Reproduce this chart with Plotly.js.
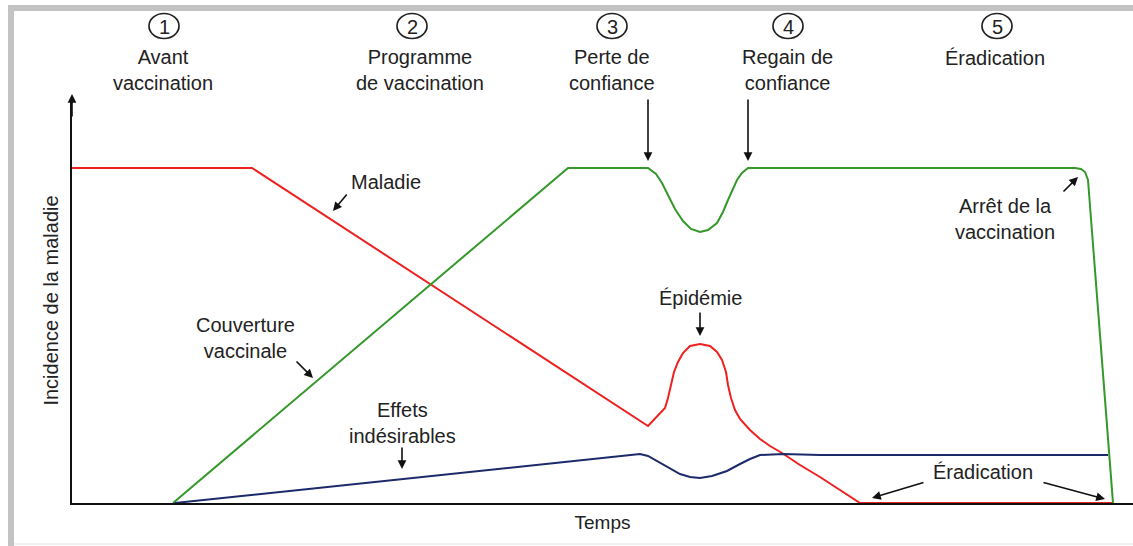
<!DOCTYPE html>
<html>
<head>
<meta charset="utf-8">
<script src="https://cdn.plot.ly/plotly-3.0.1.min.js"></script>
<style>html,body{margin:0;padding:0;background:#fff;}#chart{width:1133px;height:546px;}</style>
</head>
<body>
<div id="chart"></div>
<script>
// Time axis (arbitrary units) and incidence values
const maladieT = [0,180,576,586,593,596,599,602,606,611,618,628,638,645,650,654,656,659,663,668,678,688,698,710,728,748,788,1041];
const maladieV = [335,335,77,88,95,105,119,131,141,150,157,159,157,151,143,131,118,105,93,84,73,64,57,50,38,26,0,0];

const couvertureT = [101,496,576,584,590,595,603,611,619,628,636,645,651,656,661,665,670,676,1003,1009,1013,1016,1041];
const couvertureV = [0,335,335,329,320,310,294,282,274,271,273,280,291,303,314,323,330,335,335,334,331,323,0];

const effetsT = [103,568,576,588,598,608,618,628,640,655,668,678,688,711,748,1036];
const effetsV = [0,49,47,40,34,29,26,25,27,32,39,44,48,49,48,48];

const phaseNums = ['1','2','3','4','5'];
const phaseLabels = ['Avant<br>vaccination','Programme<br>de vaccination','Perte de<br>confiance','Regain de<br>confiance','Éradication'];

// ---- layout geometry (pixels) ----
const W = 1133, H = 546, L = 72, R = 0, T = 98, B = 43;
const PW = W - L - R, PH = H - T - B;
const PX = px => (px - L) / PW;    // pixel -> paper x
const PY = py => ((H - B) - py) / PH; // pixel -> paper y

const FONT = 'Liberation Sans, Arial, sans-serif';
const TXT = '#222222';
const FS = 20;

const traces = [
  {x: maladieT, y: maladieV, mode: 'lines', name: 'Maladie', line: {color: '#ee2020', width: 2}, cliponaxis: false},
  {x: couvertureT, y: couvertureV, mode: 'lines', name: 'Couverture vaccinale', line: {color: '#35982a', width: 2}, cliponaxis: false},
  {x: effetsT, y: effetsV, mode: 'lines', name: 'Effets indésirables', line: {color: '#1c2a6a', width: 2}, cliponaxis: false}
];

const annotations = [];
const shapes = [];

// phase headers
const phaseX = [164, 412, 612, 788, 997];
const labelX = [163, 420, 612, 787, 995];
phaseNums.forEach((n, i) => {
  shapes.push({type: 'circle', xref: 'paper', yref: 'paper', xsizemode: 'pixel', ysizemode: 'pixel',
    xanchor: PX(phaseX[i]), yanchor: PY(26), x0: -15, x1: 15, y0: -12.5, y1: 12.5,
    line: {color: '#222', width: 1.7}, fillcolor: 'rgba(0,0,0,0)'});
  annotations.push({xref: 'paper', yref: 'paper', x: PX(phaseX[i]), y: PY(26.5), text: n, showarrow: false,
    font: {family: FONT, size: 20, color: TXT}, xanchor: 'center', yanchor: 'middle'});
  const single = phaseLabels[i].indexOf('<br>') < 0;
  annotations.push({xref: 'paper', yref: 'paper', x: PX(labelX[i]), y: PY(single ? 58 : 70), text: phaseLabels[i], showarrow: false,
    font: {family: FONT, size: FS, color: TXT}, xanchor: 'center', yanchor: 'middle', align: 'center'});
});

// text labels in the plot
const labels = [
  ['Maladie', 386, 182],
  ['Couverture<br>vaccinale', 245, 338],
  ['Effets<br>indésirables', 402, 423],
  ['Épidémie', 700, 298],
  ['Arrêt de la<br>vaccination', 1005, 219],
  ['Éradication', 983, 472]
];
labels.forEach(l => annotations.push({xref: 'paper', yref: 'paper', x: PX(l[1]), y: PY(l[2]), text: l[0], showarrow: false,
  font: {family: FONT, size: FS, color: TXT}, xanchor: 'center', yanchor: 'middle', align: 'center'}));

// arrows [tailX, tailY, tipX, tipY] in pixels
const arrows = [
  [648, 98, 648, 161],
  [748, 98, 748, 161],
  [348, 193, 333, 211],
  [295, 360, 313, 378],
  [402, 446, 402, 469],
  [700, 311, 700, 336],
  [1062, 193, 1078, 177],
  [925, 482, 872, 498],
  [1042, 482, 1105, 499],
  [72, 118, 72, 94]
];
arrows.forEach(a => annotations.push({xref: 'paper', yref: 'paper', axref: 'pixel', ayref: 'pixel',
  x: PX(a[2]), y: PY(a[3]), ax: a[0] - a[2], ay: a[1] - a[3], text: '', showarrow: true,
  arrowhead: 2, arrowsize: 1.1, arrowwidth: 1.6, arrowcolor: '#111', standoff: 0, startstandoff: 0}));

// frame
shapes.push({type: 'rect', xref: 'paper', yref: 'paper', x0: PX(8), x1: PX(14), y0: PY(546), y1: PY(5),
  fillcolor: '#c3c3c3', line: {width: 0}, layer: 'below'});
shapes.push({type: 'rect', xref: 'paper', yref: 'paper', x0: PX(8), x1: PX(1133), y0: PY(11), y1: PY(5),
  fillcolor: '#c3c3c3', line: {width: 0}, layer: 'below'});
shapes.push({type: 'line', xref: 'paper', yref: 'paper', x0: PX(14), x1: PX(1133), y0: PY(544), y1: PY(544),
  line: {color: '#e4e4e4', width: 1}, layer: 'below'});

const layout = {
  width: W, height: H,
  margin: {l: L, r: R, t: T, b: B, pad: 0},
  paper_bgcolor: '#ffffff', plot_bgcolor: '#ffffff',
  showlegend: false,
  font: {family: FONT, color: TXT, size: FS},
  xaxis: {range: [0, PW], showgrid: false, zeroline: false, showticklabels: false, ticks: '',
    showline: true, linecolor: '#111', linewidth: 2, fixedrange: true,
    title: {text: 'Temps', font: {family: FONT, size: 19, color: TXT}, standoff: 12}},
  yaxis: {range: [0, PH], showgrid: false, zeroline: false, showticklabels: false, ticks: '',
    showline: true, linecolor: '#111', linewidth: 2, fixedrange: true,
    title: {text: 'Incidence de la maladie', font: {family: FONT, size: 20, color: TXT}, standoff: 6}},
  annotations: annotations,
  shapes: shapes
};

Plotly.newPlot('chart', traces, layout, {displayModeBar: false, staticPlot: true});
</script>
</body>
</html>
